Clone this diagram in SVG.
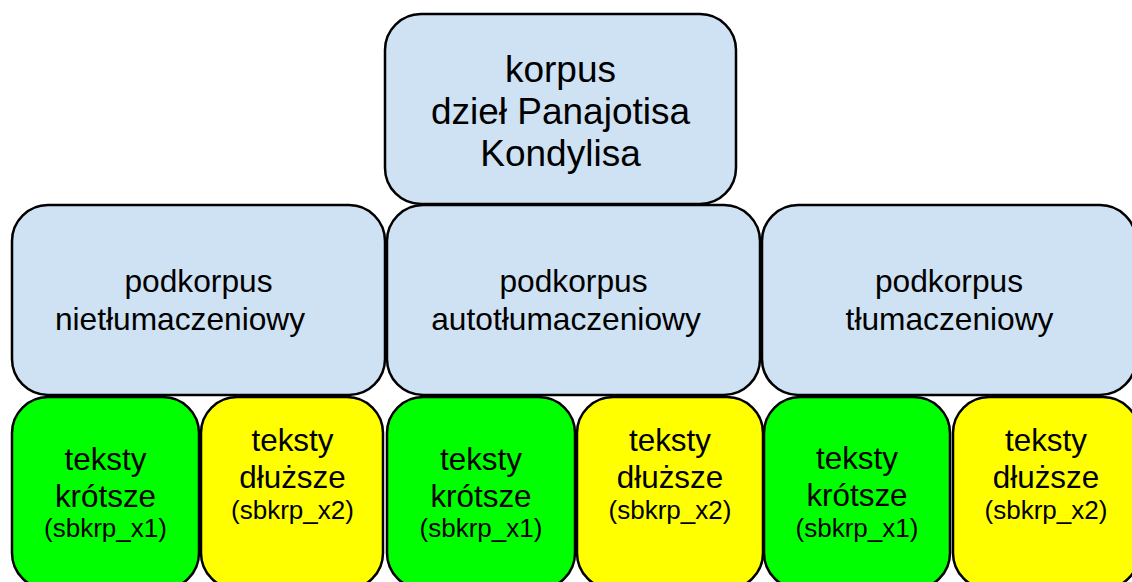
<svg xmlns="http://www.w3.org/2000/svg" width="1132" height="582" viewBox="0 0 1132 582">
  <style>
    .box { stroke: #000; stroke-width: 2.5; }
    .blue { fill: #cfe2f3; }
    .green { fill: #00ff00; }
    .yellow { fill: #ffff00; }
    text { font-family: "Liberation Sans", Arial, sans-serif; fill: #000; text-anchor: middle; }
    .big { font-size: 37px; }
    .mid { font-size: 31.7px; }
    .small { font-size: 31.4px; }
    .code { font-size: 26px; }
  </style>
  <rect width="1132" height="582" fill="#fff"/>

  <!-- connectors: the hierarchy is shown by stacking, no lines -->
  <g id="connectors"/>

  <!-- root corpus -->
  <g id="korpus">
    <rect class="box blue" x="385" y="14" width="351" height="190" rx="36" ry="36"/>
    <text class="big" x="560.5" y="82">korpus</text>
    <text class="big" x="560.5" y="124">dzieł Panajotisa</text>
    <text class="big" x="560.5" y="166">Kondylisa</text>
  </g>

  <!-- sub-corpora -->
  <g id="podkorpus-nietlumaczeniowy">
    <rect class="box blue" x="12" y="205" width="373" height="190" rx="36" ry="36"/>
    <text class="mid" x="198.5" y="292">podkorpus</text>
    <text class="mid" x="180" y="330">nietłumaczeniowy</text>
  </g>
  <g id="podkorpus-autotlumaczeniowy">
    <rect class="box blue" x="387" y="205" width="373" height="190" rx="36" ry="36"/>
    <text class="mid" x="573.5" y="292">podkorpus</text>
    <text class="mid" x="566" y="330">autotłumaczeniowy</text>
  </g>
  <g id="podkorpus-tlumaczeniowy">
    <rect class="box blue" x="762" y="205" width="374" height="190" rx="36" ry="36"/>
    <text class="mid" x="949" y="292">podkorpus</text>
    <text class="mid" x="949.5" y="330">tłumaczeniowy</text>
  </g>

  <!-- leaf sub-sets -->
  <g id="x1-a">
    <rect class="box green" x="12" y="397" width="187" height="192" rx="36" ry="36"/>
    <text class="small" x="105.5" y="470">teksty</text>
    <text class="small" x="105.5" y="507">krótsze</text>
    <text class="code" x="105.5" y="537">(sbkrp_x1)</text>
  </g>
  <g id="x2-a">
    <rect class="box yellow" x="201" y="397" width="182" height="192" rx="36" ry="36"/>
    <text class="small" x="292.5" y="451">teksty</text>
    <text class="small" x="292.5" y="488">dłuższe</text>
    <text class="code" x="292.5" y="519">(sbkrp_x2)</text>
  </g>
  <g id="x1-b">
    <rect class="box green" x="387" y="397" width="188" height="192" rx="36" ry="36"/>
    <text class="small" x="481" y="470">teksty</text>
    <text class="small" x="481" y="507">krótsze</text>
    <text class="code" x="481" y="537">(sbkrp_x1)</text>
  </g>
  <g id="x2-b">
    <rect class="box yellow" x="577" y="397" width="186" height="192" rx="36" ry="36"/>
    <text class="small" x="670" y="451">teksty</text>
    <text class="small" x="670" y="488">dłuższe</text>
    <text class="code" x="670" y="519">(sbkrp_x2)</text>
  </g>
  <g id="x1-c">
    <rect class="box green" x="764" y="397" width="186" height="192" rx="36" ry="36"/>
    <text class="small" x="857" y="469">teksty</text>
    <text class="small" x="857" y="506">krótsze</text>
    <text class="code" x="857" y="537">(sbkrp_x1)</text>
  </g>
  <g id="x2-c">
    <rect class="box yellow" x="953" y="397" width="186" height="192" rx="36" ry="36"/>
    <text class="small" x="1046" y="451">teksty</text>
    <text class="small" x="1046" y="488">dłuższe</text>
    <text class="code" x="1046" y="519">(sbkrp_x2)</text>
  </g>
</svg>
